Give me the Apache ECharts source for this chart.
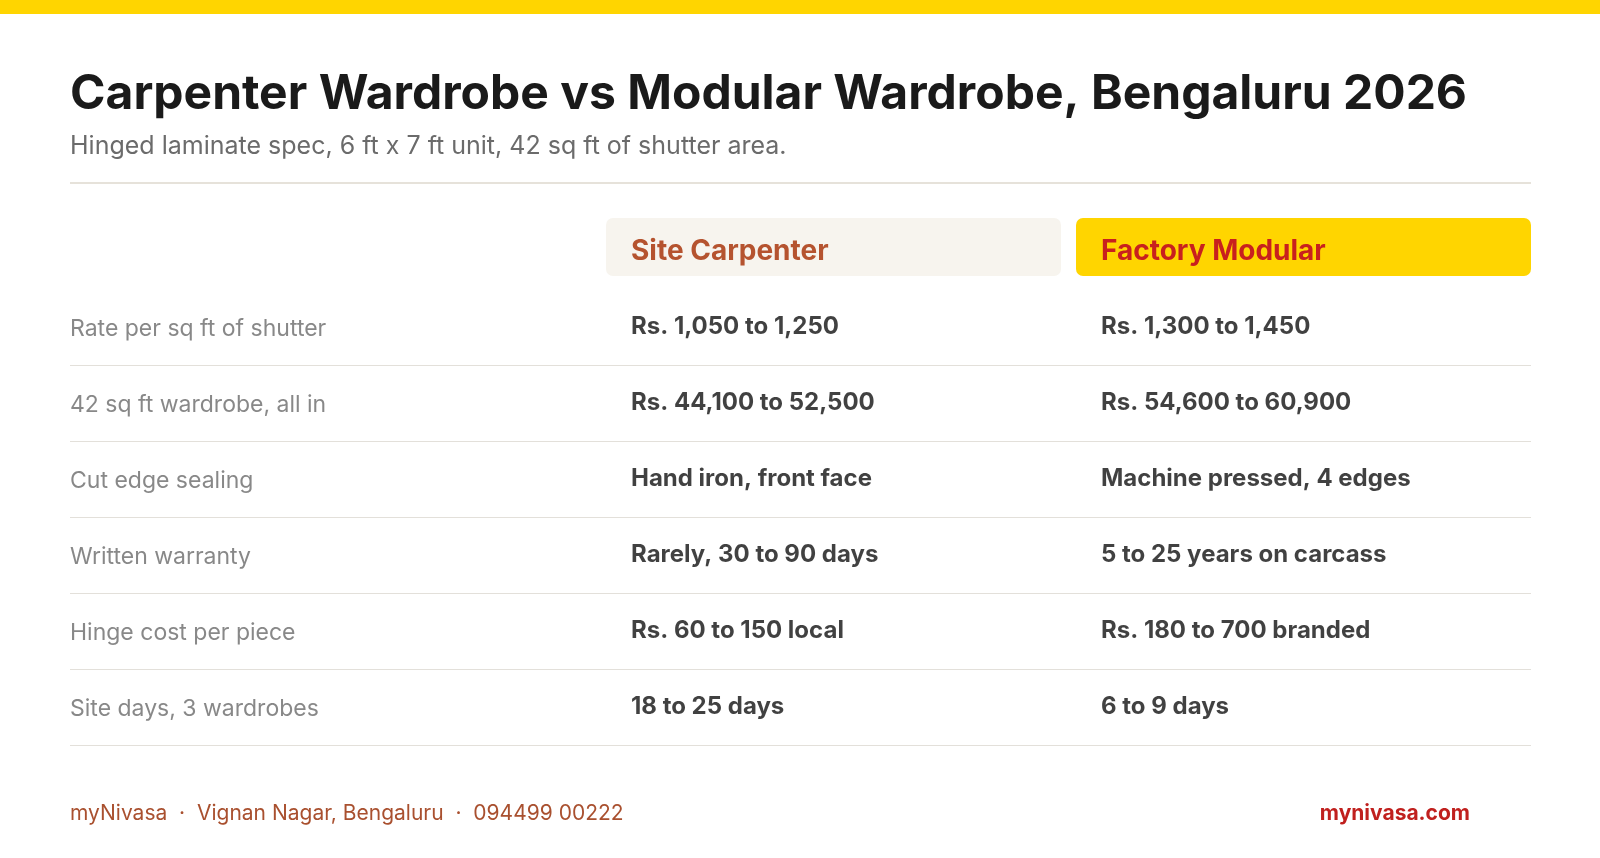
<!DOCTYPE html>
<html><head><meta charset="utf-8">
<script src="https://cdn.jsdelivr.net/npm/echarts@6/dist/echarts.min.js"></script>
<style>html,body{margin:0;padding:0;background:#fff}#c{width:1600px;height:858px}</style>
</head><body><div id="c"></div>
<script>
const title = 'Carpenter Wardrobe vs Modular Wardrobe, Bengaluru 2026';
const subtitle = 'Hinged laminate spec, 6 ft x 7 ft unit, 42 sq ft of shutter area.';
const columns = ['Site Carpenter', 'Factory Modular'];
const rowLabels = ['Rate per sq ft of shutter','42 sq ft wardrobe, all in','Cut edge sealing','Written warranty','Hinge cost per piece','Site days, 3 wardrobes'];
const carpenter = ['Rs. 1,050 to 1,250','Rs. 44,100 to 52,500','Hand iron, front face','Rarely, 30 to 90 days','Rs. 60 to 150 local','18 to 25 days'];
const modular = ['Rs. 1,300 to 1,450','Rs. 54,600 to 60,900','Machine pressed, 4 edges','5 to 25 years on carcass','Rs. 180 to 700 branded','6 to 9 days'];
const footerLeft = 'myNivasa  ·  Vignan Nagar, Bengaluru  ·  094499 00222';
const footerRight = 'mynivasa.com';

const colX = [70, 631, 1101];
const font = 'Inter, "Noto Sans", sans-serif';
const chart = echarts.init(document.getElementById('c'));

function cellData(arr, ci){ return arr.map((t,i)=>({value:[colX[ci], rowLabels[i]], text:t})); }

const option = {
  backgroundColor:'#fff',
  grid:{left:0,right:0,top:289,height:456},
  xAxis:{type:'value',min:0,max:1600,show:false},
  yAxis:{type:'category',data:rowLabels,inverse:true,show:false},
  series:[
    {type:'scatter',symbolSize:0,data:cellData(rowLabels,0),silent:true,
      label:{show:true,position:'right',distance:0,formatter:p=>p.data.text,color:'#6a6a6a',fontSize:23,fontFamily:font,offset:[0,2]}},
    {type:'scatter',symbolSize:0,data:cellData(carpenter,1),silent:true,
      label:{show:true,position:'right',distance:0,formatter:p=>p.data.text,color:'#111',fontSize:24,fontWeight:'bold',fontFamily:font}},
    {type:'scatter',symbolSize:0,data:cellData(modular,2),silent:true,
      label:{show:true,position:'right',distance:0,formatter:p=>p.data.text,color:'#111',fontSize:24,fontWeight:'bold',fontFamily:font}}
  ]
};
chart.setOption(option);

const g = [
  {type:'rect',shape:{x:0,y:0,width:1600,height:14},style:{fill:'#FFD500'}},
  {type:'text',x:70,y:95,style:{text:title,font:'bold 48px '+font,fill:'#1a1a1a',verticalAlign:'middle'}},
  {type:'text',x:70,y:146,style:{text:subtitle,font:'25px '+font,fill:'#6b6b6b',verticalAlign:'middle'}},
  {type:'rect',shape:{x:70,y:182,width:1461,height:2},style:{fill:'#e6e2da'}},
  {type:'rect',shape:{x:606,y:218,width:455,height:58,r:7},style:{fill:'#F7F4EE'}},
  {type:'rect',shape:{x:1076,y:218,width:455,height:58,r:7},style:{fill:'#FFD500'}},
  {type:'text',x:631,y:252,style:{text:columns[0],font:'bold 28px '+font,fill:'#B5532F',verticalAlign:'middle'}},
  {type:'text',x:1101,y:252,style:{text:columns[1],font:'bold 28px '+font,fill:'#C8201E',verticalAlign:'middle'}},
  {type:'text',x:70,y:814,style:{text:footerLeft,font:'21px '+font,fill:'#A9502F',verticalAlign:'middle'}},
  {type:'text',x:1470,y:814,style:{text:footerRight,font:'bold 21px '+font,fill:'#C0201E',align:'right',verticalAlign:'middle'}}
];
rowLabels.forEach((r,i)=>{
  const y0 = chart.convertToPixel({yAxisIndex:0}, r);
  const y1 = i<rowLabels.length-1 ? chart.convertToPixel({yAxisIndex:0}, rowLabels[i+1]) : null;
  const yb = y1!==null ? (y0+y1)/2 : y0 + (y0 - chart.convertToPixel({yAxisIndex:0}, rowLabels[i-1]))/2;
  g.push({type:'rect',shape:{x:70,y:Math.round(yb),width:1461,height:1},style:{fill:'#e3e0da'}});
});
chart.setOption({graphic:g});
</script></body></html>
